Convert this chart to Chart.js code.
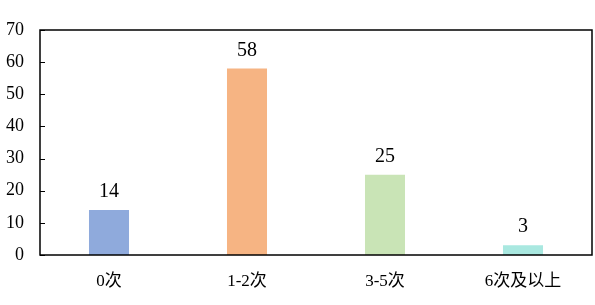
<!DOCTYPE html>
<html>
<head>
<meta charset="utf-8">
<script src="https://cdn.jsdelivr.net/npm/chart.js@4"></script>
<style>
  html, body { margin: 0; padding: 0; background: #fff; }
  #wrap { width: 595px; height: 305px; }
</style>
</head>
<body>
<div id="wrap"><canvas id="chart"></canvas></div>
<script>
// data
const categories = ['0次', '1-2次', '3-5次', '6次及以上'];
const counts = [14, 58, 25, 3];
const barColors = ['#8FAADC', '#F6B483', '#C9E4B6', '#A9E8E0'];
const yMin = 0, yMax = 70, yStep = 10;

const FONT = "'Liberation Serif', 'Times New Roman', 'Noto Sans CJK SC', serif";

// frame round the plot, inward ticks on the y axis, values above bars
const framePlugin = {
    id: 'frame',
    afterDraw(chart) {
        const ctx = chart.ctx;
        const a = chart.chartArea;
        const y = chart.scales.y;
        ctx.save();
        ctx.strokeStyle = '#000';
        ctx.lineWidth = 1.5;
        ctx.strokeRect(a.left, a.top, a.right - a.left, a.bottom - a.top);
        ctx.lineWidth = 1;
        y.ticks.forEach(t => {
            const py = Math.round(y.getPixelForValue(t.value)) + 0.5;
            ctx.beginPath();
            ctx.moveTo(a.left, py);
            ctx.lineTo(a.left + 5, py);
            ctx.stroke();
        });
        // value labels
        ctx.fillStyle = '#000';
        ctx.font = '20px ' + FONT;
        ctx.textAlign = 'center';
        ctx.textBaseline = 'alphabetic';
        chart.getDatasetMeta(0).data.forEach((bar, i) => {
            ctx.fillText(String(counts[i]), bar.x, bar.y - 13);
        });
        ctx.restore();
    }
};

new Chart(document.getElementById('chart'), {
    type: 'bar',
    data: {
        labels: categories,
        datasets: [{
            data: counts,
            backgroundColor: barColors,
            borderWidth: 0,
            categoryPercentage: 1,
            barPercentage: 0.29
        }]
    },
    options: {
        responsive: true,
        maintainAspectRatio: false,
        animation: false,
        layout: { padding: { top: 30, right: 3, left: 0, bottom: 0 } },
        plugins: {
            legend: { display: false },
            tooltip: { enabled: false }
        },
        scales: {
            x: {
                grid: { display: false, drawTicks: false },
                border: { display: false },
                ticks: {
                    color: '#000',
                    font: { family: FONT, size: 17 },
                    padding: 16
                },
                afterFit(scale) { scale.height = 50; }
            },
            y: {
                min: yMin,
                max: yMax,
                grid: { display: false, drawTicks: false },
                border: { display: false },
                ticks: {
                    stepSize: yStep,
                    color: '#000',
                    font: { family: FONT, size: 18 },
                    padding: 16
                },
                afterFit(scale) { scale.width = 40; }
            }
        }
    },
    plugins: [framePlugin]
});
</script>
</body>
</html>
